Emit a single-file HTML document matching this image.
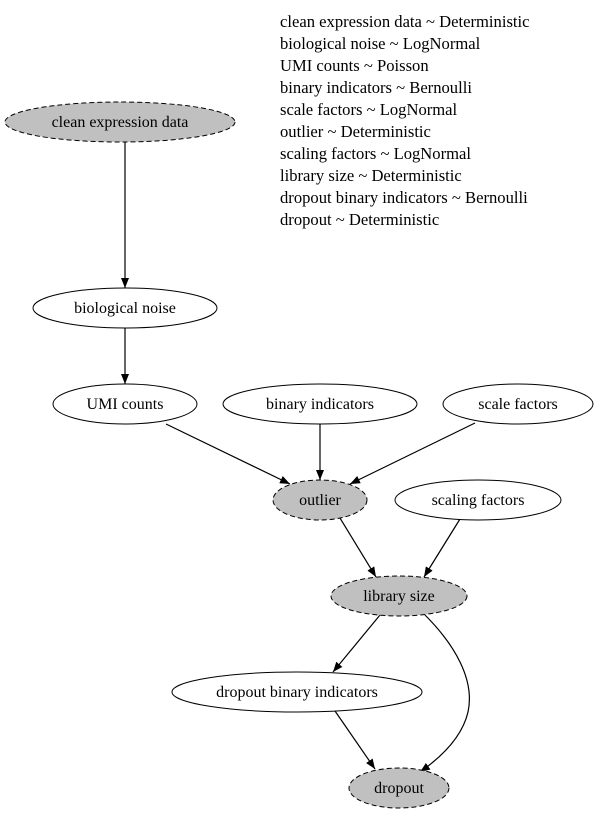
<!DOCTYPE html>
<html><head><meta charset="utf-8"><style>
html,body{margin:0;padding:0;background:#fff;}
svg text{font-family:"Liberation Serif",serif;font-size:16px;fill:#000;}
svg .leg text{font-size:16.6px;}
</style></head><body>
<svg width="600" height="817" viewBox="0 0 600 817" xmlns="http://www.w3.org/2000/svg">
<defs>
<marker id="a" markerWidth="10" markerHeight="8" refX="10" refY="4" orient="auto" markerUnits="userSpaceOnUse">
<path d="M0,0 L10,4 L0,8 z" fill="#000"/></marker>
</defs>
<g fill="none" stroke="#000" stroke-width="1.2">
<path d="M125,142 L125,288" marker-end="url(#a)"/>
<path d="M125,328 L125,384" marker-end="url(#a)"/>
<path d="M166,424 L290,484" marker-end="url(#a)"/>
<path d="M320,424 L320,480" marker-end="url(#a)"/>
<path d="M475,423 L350,484" marker-end="url(#a)"/>
<path d="M340,518 L376,577" marker-end="url(#a)"/>
<path d="M460,519 L424,577" marker-end="url(#a)"/>
<path d="M380,615 L333,672" marker-end="url(#a)"/>
<path d="M425,615 C455,645 475,680 468,712 C462,738 440,758 420,772" marker-end="url(#a)"/>
<path d="M335,711 L375,769" marker-end="url(#a)"/>
</g>
<g stroke="#000" stroke-width="1">
<ellipse cx="120" cy="122" rx="115" ry="20" fill="#c0c0c0" stroke-dasharray="5,3"/>
<ellipse cx="125" cy="308" rx="92" ry="20" fill="#fff"/>
<ellipse cx="125" cy="404" rx="72" ry="20" fill="#fff"/>
<ellipse cx="320" cy="404" rx="97" ry="20" fill="#fff"/>
<ellipse cx="518" cy="404" rx="75" ry="20" fill="#fff"/>
<ellipse cx="320" cy="500" rx="47" ry="20" fill="#c0c0c0" stroke-dasharray="5,3"/>
<ellipse cx="478" cy="500" rx="83" ry="20" fill="#fff"/>
<ellipse cx="399" cy="596" rx="68" ry="20" fill="#c0c0c0" stroke-dasharray="5,3"/>
<ellipse cx="297" cy="692" rx="125" ry="20" fill="#fff"/>
<ellipse cx="399" cy="788" rx="50" ry="20" fill="#c0c0c0" stroke-dasharray="5,3"/>
</g>
<g text-anchor="middle">
<text x="120" y="127">clean expression data</text>
<text x="125" y="313">biological noise</text>
<text x="125" y="409">UMI counts</text>
<text x="320" y="409">binary indicators</text>
<text x="518" y="409">scale factors</text>
<text x="320" y="505">outlier</text>
<text x="478" y="505">scaling factors</text>
<text x="399" y="601">library size</text>
<text x="297" y="697">dropout binary indicators</text>
<text x="399" y="793">dropout</text>
</g>
<g class="leg">
<text x="280" y="27">clean expression data ~ Deterministic</text>
<text x="280" y="49">biological noise ~ LogNormal</text>
<text x="280" y="71">UMI counts ~ Poisson</text>
<text x="280" y="93">binary indicators ~ Bernoulli</text>
<text x="280" y="115">scale factors ~ LogNormal</text>
<text x="280" y="137">outlier ~ Deterministic</text>
<text x="280" y="159">scaling factors ~ LogNormal</text>
<text x="280" y="181">library size ~ Deterministic</text>
<text x="280" y="203">dropout binary indicators ~ Bernoulli</text>
<text x="280" y="225">dropout ~ Deterministic</text>
</g>
</svg>
</body></html>
